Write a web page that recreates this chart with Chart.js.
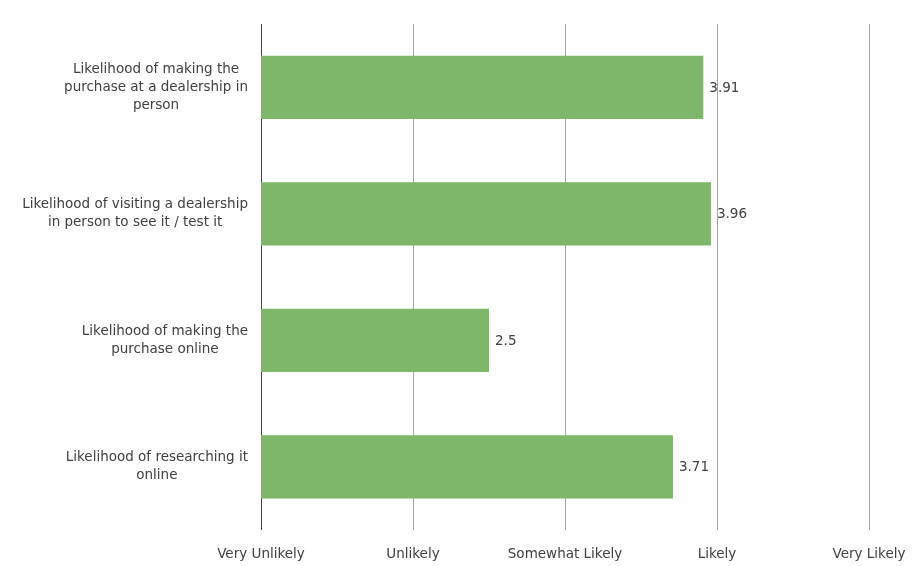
<!DOCTYPE html>
<html>
<head>
<meta charset="utf-8">
<script src="https://cdn.jsdelivr.net/npm/chart.js@4/dist/chart.umd.min.js"></script>
<style>
  html, body { margin: 0; padding: 0; background: #fff; }
  #wrap { width: 924px; height: 566px; }
</style>
</head>
<body>
<div id="wrap"><canvas id="likelihoodChart" width="924" height="566"></canvas></div>
<script>
// categories (each one already split into its display lines)
const categories = [
    ['Likelihood of making the', 'purchase at a dealership in', 'person'],
    ['Likelihood of visiting a dealership', 'in person to see it / test it'],
    ['Likelihood of making the', 'purchase online'],
    ['Likelihood of researching it', 'online']
];
const scores = [3.91, 3.96, 2.5, 3.71];
const scaleValues = [1, 2, 3, 4, 5];
const scaleLabels = ['Very Unlikely', 'Unlikely', 'Somewhat Likely', 'Likely', 'Very Likely'];

const textColor = '#404040';
const fontFamily = '"DejaVu Sans", Verdana, sans-serif';
const fontSize = 13.5;

// category labels: centred lines, block right edge next to the axis
const categoryLabels = {
    id: 'categoryLabels',
    afterDraw(chart) {
        const ctx = chart.ctx;
        const y = chart.scales.y;
        const right = chart.chartArea.left - 13;
        const lineH = 18;
        ctx.save();
        ctx.font = fontSize + 'px ' + fontFamily;
        ctx.fillStyle = textColor;
        ctx.textAlign = 'center';
        ctx.textBaseline = 'middle';
        categories.forEach(function(lines, i) {
            const widest = Math.max.apply(null, lines.map(l => ctx.measureText(l).width));
            const cx = right - widest / 2;
            const cy = y.getPixelForValue(i);
            const top = cy - (lines.length - 1) * lineH / 2;
            lines.forEach(function(l, j) {
                ctx.fillText(l, cx, top + j * lineH);
            });
        });
        ctx.restore();
    }
};

// value labels at the end of each bar
const valueLabels = {
    id: 'valueLabels',
    afterDatasetsDraw(chart) {
        const ctx = chart.ctx;
        const meta = chart.getDatasetMeta(0);
        ctx.save();
        ctx.font = fontSize + 'px ' + fontFamily;
        ctx.fillStyle = textColor;
        ctx.textAlign = 'left';
        ctx.textBaseline = 'middle';
        meta.data.forEach(function(bar, i) {
            ctx.fillText(String(scores[i]), bar.x + 6, bar.y + 1);
        });
        ctx.restore();
    }
};

new Chart(document.getElementById('likelihoodChart').getContext('2d'), {
    type: 'bar',
    data: {
        labels: categories.map(c => c.join(' ')),
        datasets: [{
            data: scores,
            backgroundColor: '#7EB76A',
            borderWidth: 0,
            categoryPercentage: 1,
            barPercentage: 0.5
        }]
    },
    options: {
        indexAxis: 'y',
        responsive: false,
        animation: false,
        layout: { padding: { top: 24, right: 55, bottom: 0, left: 0 } },
        plugins: {
            legend: { display: false },
            tooltip: { enabled: false }
        },
        scales: {
            x: {
                min: 1,
                max: 5,
                afterFit: function(s) { s.height = 36; },
                afterBuildTicks: function(s) { s.ticks = scaleValues.map(v => ({ value: v })); },
                ticks: {
                    padding: 16,
                    color: textColor,
                    font: { family: fontFamily, size: fontSize },
                    maxRotation: 0,
                    autoSkip: false,
                    callback: function(v) {
                        const i = scaleValues.indexOf(v);
                        return i >= 0 ? scaleLabels[i] : '';
                    }
                },
                grid: {
                    drawTicks: false,
                    color: function(c) { return c.index === 0 ? '#404040' : '#a6a6a6'; },
                    lineWidth: 1
                },
                border: { display: false }
            },
            y: {
                afterFit: function(s) { s.width = 261; },
                ticks: { display: false },
                grid: { display: false },
                border: { display: false }
            }
        }
    },
    plugins: [categoryLabels, valueLabels]
});
</script>
</body>
</html>
